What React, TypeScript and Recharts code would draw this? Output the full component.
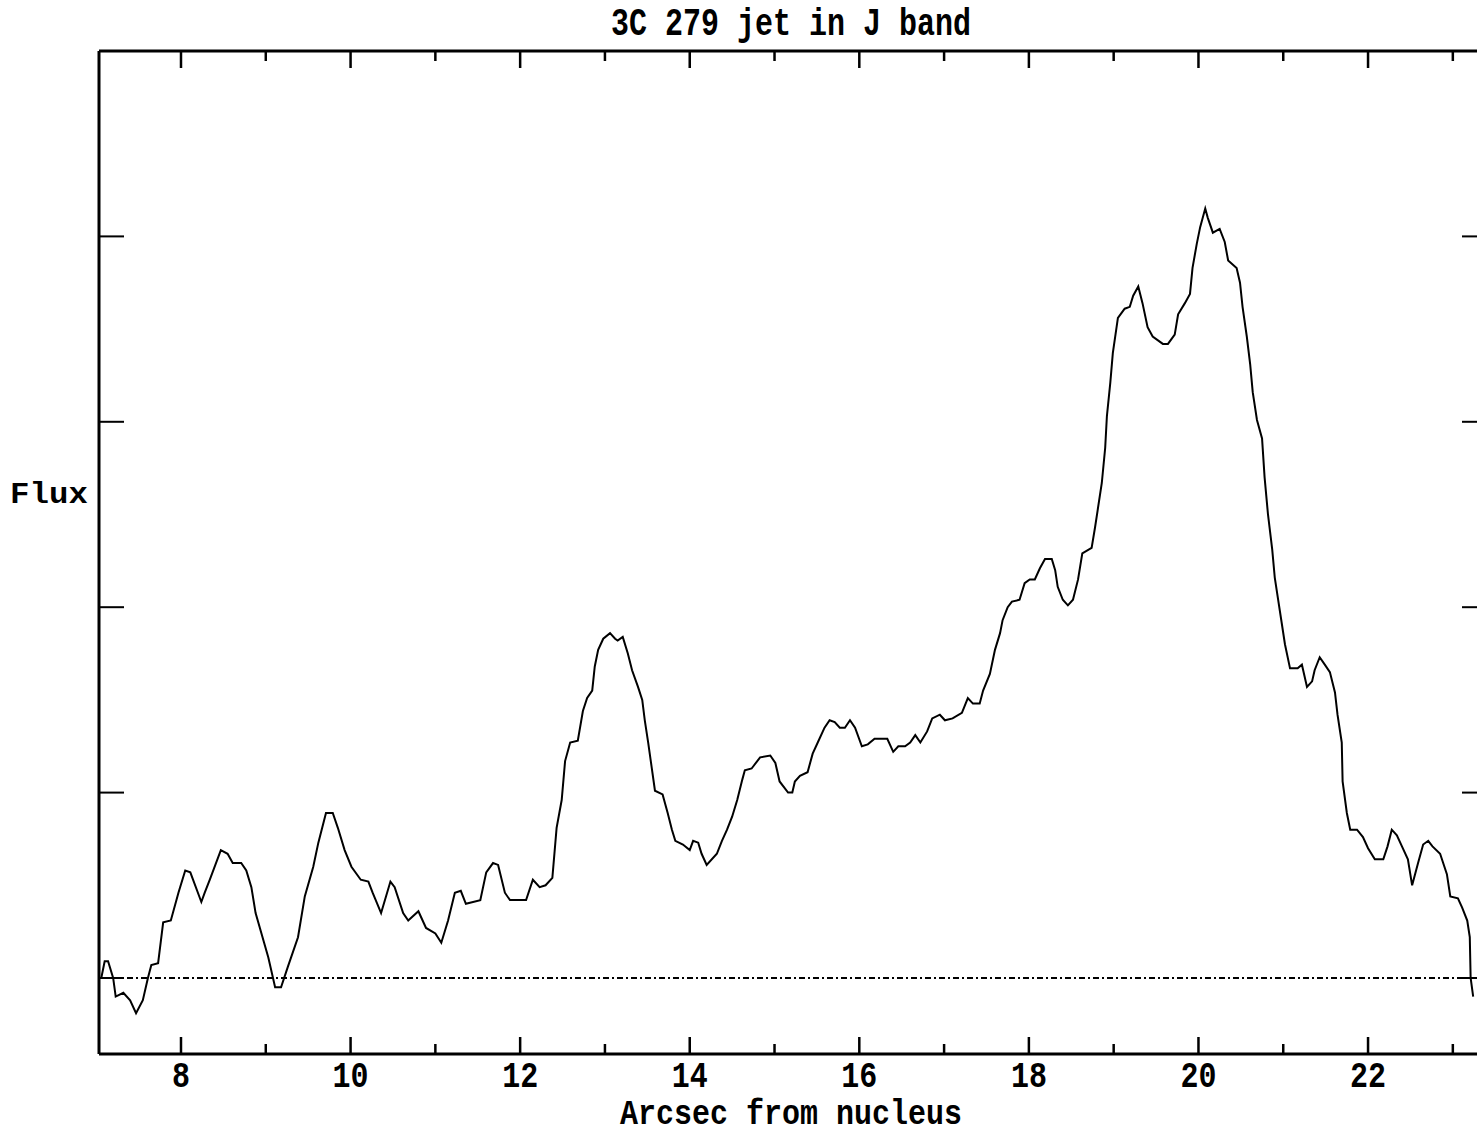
import { LineChart, Line, XAxis, YAxis, ReferenceLine } from 'recharts';

// arcsec from nucleus (x) and flux (y)
const arcsec = [
  7.06, 7.10, 7.14, 7.20, 7.23, 7.32, 7.40, 7.47, 7.55, 7.61,
  7.65, 7.73, 7.79, 7.88, 7.97, 8.05, 8.11, 8.24, 8.28, 8.34,
  8.47, 8.55, 8.61, 8.71, 8.77, 8.83, 8.88, 9.03, 9.11, 9.18,
  9.26, 9.38, 9.46, 9.56, 9.62, 9.71, 9.79, 9.85, 9.93, 10.01,
  10.12, 10.21, 10.26, 10.36, 10.47, 10.52, 10.62, 10.68, 10.80, 10.89,
  11.00, 11.07, 11.15, 11.23, 11.30, 11.36, 11.53, 11.60, 11.68, 11.74,
  11.82, 11.88, 12.07, 12.15, 12.23, 12.30, 12.38, 12.43, 12.49, 12.53,
  12.59, 12.68, 12.74, 12.79, 12.85, 12.88, 12.92, 12.98, 13.06, 13.12,
  13.15, 13.21, 13.27, 13.32, 13.39, 13.44, 13.47, 13.51, 13.55, 13.59,
  13.68, 13.74, 13.79, 13.83, 13.92, 14.00, 14.04, 14.10, 14.14, 14.20,
  14.32, 14.38, 14.44, 14.50, 14.56, 14.62, 14.65, 14.73, 14.83, 14.95,
  15.01, 15.06, 15.16, 15.21, 15.24, 15.30, 15.39, 15.45, 15.51, 15.59,
  15.65, 15.71, 15.77, 15.83, 15.89, 15.95, 16.03, 16.10, 16.18, 16.33,
  16.40, 16.46, 16.54, 16.60, 16.66, 16.72, 16.80, 16.86, 16.95, 17.01,
  17.10, 17.21, 17.28, 17.34, 17.42, 17.46, 17.54, 17.60, 17.66, 17.69,
  17.75, 17.80, 17.89, 17.95, 18.01, 18.07, 18.13, 18.19, 18.27, 18.31,
  18.34, 18.40, 18.46, 18.52, 18.58, 18.63, 18.74, 18.78, 18.81, 18.86,
  18.90, 18.92, 18.96, 18.99, 19.05, 19.13, 19.19, 19.23, 19.29, 19.34,
  19.40, 19.46, 19.58, 19.64, 19.72, 19.76, 19.84, 19.90, 19.93, 19.98,
  20.02, 20.08, 20.11, 20.17, 20.25, 20.31, 20.35, 20.45, 20.49, 20.52,
  20.57, 20.61, 20.64, 20.69, 20.75, 20.78, 20.82, 20.87, 20.90, 20.94,
  20.98, 21.02, 21.08, 21.17, 21.22, 21.28, 21.34, 21.37, 21.43, 21.49,
  21.55, 21.61, 21.64, 21.69, 21.70, 21.75, 21.79, 21.87, 21.94, 22.00,
  22.08, 22.18, 22.23, 22.28, 22.34, 22.40, 22.47, 22.52, 22.59, 22.65,
  22.71, 22.76, 22.85, 22.93, 22.97, 23.06, 23.11, 23.17, 23.20, 23.21, 23.24,
];

const flux = [
  0.00, 0.09, 0.09, 0.00, -0.10, -0.08, -0.12, -0.19, -0.12, 0.00,
  0.07, 0.08, 0.30, 0.31, 0.46, 0.58, 0.57, 0.41, 0.46, 0.53,
  0.69, 0.67, 0.62, 0.62, 0.58, 0.49, 0.35, 0.11, -0.05, -0.05,
  0.06, 0.22, 0.44, 0.60, 0.73, 0.89, 0.89, 0.81, 0.69, 0.60,
  0.53, 0.52, 0.46, 0.35, 0.52, 0.49, 0.35, 0.31, 0.36, 0.27,
  0.24, 0.19, 0.31, 0.46, 0.47, 0.40, 0.42, 0.57, 0.62, 0.61,
  0.46, 0.42, 0.42, 0.53, 0.49, 0.50, 0.54, 0.81, 0.96, 1.17,
  1.27, 1.28, 1.44, 1.51, 1.55, 1.68, 1.77, 1.83, 1.86, 1.83,
  1.82, 1.84, 1.75, 1.66, 1.57, 1.50, 1.39, 1.27, 1.14, 1.01,
  0.99, 0.89, 0.80, 0.74, 0.72, 0.69, 0.74, 0.73, 0.67, 0.61,
  0.67, 0.74, 0.80, 0.87, 0.96, 1.07, 1.12, 1.13, 1.19, 1.20,
  1.16, 1.06, 1.00, 1.00, 1.06, 1.09, 1.11, 1.21, 1.27, 1.35,
  1.39, 1.38, 1.35, 1.35, 1.39, 1.35, 1.25, 1.26, 1.29, 1.29,
  1.22, 1.25, 1.25, 1.27, 1.31, 1.27, 1.33, 1.40, 1.42, 1.39,
  1.40, 1.43, 1.51, 1.48, 1.48, 1.55, 1.64, 1.77, 1.86, 1.93,
  2.00, 2.03, 2.04, 2.13, 2.15, 2.15, 2.21, 2.26, 2.26, 2.20,
  2.11, 2.04, 2.01, 2.04, 2.15, 2.29, 2.32, 2.43, 2.52, 2.67,
  2.86, 3.03, 3.21, 3.37, 3.56, 3.61, 3.62, 3.68, 3.73, 3.64,
  3.51, 3.46, 3.42, 3.42, 3.47, 3.58, 3.64, 3.69, 3.83, 3.96,
  4.05, 4.15, 4.10, 4.02, 4.04, 3.97, 3.87, 3.83, 3.75, 3.62,
  3.46, 3.31, 3.16, 3.01, 2.91, 2.70, 2.50, 2.31, 2.16, 2.04,
  1.92, 1.80, 1.67, 1.67, 1.69, 1.57, 1.60, 1.66, 1.73, 1.69,
  1.65, 1.54, 1.42, 1.27, 1.06, 0.89, 0.80, 0.80, 0.76, 0.70,
  0.64, 0.64, 0.71, 0.80, 0.77, 0.71, 0.64, 0.50, 0.62, 0.72,
  0.74, 0.71, 0.67, 0.56, 0.44, 0.43, 0.38, 0.31, 0.22, 0.00, -0.10,
];

const xTicks = [8, 9, 10, 11, 12, 13, 14, 15, 16, 17, 18, 19, 20, 21, 22, 23];
const yTicks = [0, 1, 2, 3, 4];

const X_DOMAIN: [number, number] = [7.033, 23.403];
const Y_DOMAIN: [number, number] = [-0.41, 5];

const FONT = "'Liberation Mono', 'DejaVu Sans Mono', monospace";

const data = arcsec.map((x, i) => ({ x, flux: flux[i] }));

const isMajor = (v: number) => v % 2 === 0;

function BottomTick(props: any) {
  const { x, y, payload } = props;
  const major = isMajor(payload.value);
  return (
    <g>
      <line x1={x} x2={x} y1={y} y2={y - (major ? 17 : 10)} stroke="#000" strokeWidth={2.5} />
      {major && (
        <text
          transform={`translate(${x},${y + 22}) scale(1,1.25)`}
          x={0}
          y={9}
          textAnchor="middle"
          fontFamily={FONT}
          fontWeight="bold"
          fontSize={30}
          fill="#000"
        >
          {payload.value}
        </text>
      )}
    </g>
  );
}

function TopTick(props: any) {
  const { x, y, payload } = props;
  const major = isMajor(payload.value);
  return <line x1={x} x2={x} y1={y} y2={y + (major ? 17 : 10)} stroke="#000" strokeWidth={2.5} />;
}

function LeftTick(props: any) {
  const { x, y } = props;
  return <line x1={x} x2={x + 25} y1={y} y2={y} stroke="#000" strokeWidth={2} />;
}

function RightTick(props: any) {
  const { x, y } = props;
  return <line x1={x} x2={x - 25} y1={y} y2={y} stroke="#000" strokeWidth={2} />;
}

const textStyle: React.CSSProperties = {
  position: 'absolute',
  fontFamily: FONT,
  fontWeight: 'bold',
  fontSize: 30,
  lineHeight: '30px',
  color: '#000',
  whiteSpace: 'nowrap',
};

export default function App() {
  return (
    <div
      style={{
        position: 'absolute',
        left: 0,
        top: 0,
        width: 1477,
        height: 1136,
        overflow: 'hidden',
        background: '#fff',
      }}
    >
      <LineChart width={1500} height={1136} data={data} margin={{ top: 50, right: 12, bottom: 81, left: 98 }}>
        <XAxis
          dataKey="x"
          type="number"
          domain={X_DOMAIN}
          allowDataOverflow
          ticks={xTicks}
          interval={0}
          height={1}
          tickSize={0}
          tickMargin={0}
          tickLine={false}
          axisLine={{ stroke: '#000', strokeWidth: 3 }}
          tick={BottomTick}
        />
        <XAxis
          xAxisId="top"
          orientation="top"
          dataKey="x"
          type="number"
          domain={X_DOMAIN}
          allowDataOverflow
          ticks={xTicks}
          interval={0}
          height={1}
          tickSize={0}
          tickMargin={0}
          tickLine={false}
          axisLine={{ stroke: '#000', strokeWidth: 3 }}
          tick={TopTick}
        />
        <YAxis
          type="number"
          domain={Y_DOMAIN}
          allowDataOverflow
          ticks={yTicks}
          interval={0}
          width={1}
          tickSize={0}
          tickMargin={0}
          tickLine={false}
          axisLine={{ stroke: '#000', strokeWidth: 3 }}
          tick={LeftTick}
        />
        <YAxis
          yAxisId="right"
          orientation="right"
          type="number"
          domain={Y_DOMAIN}
          allowDataOverflow
          ticks={yTicks}
          interval={0}
          width={1}
          tickSize={0}
          tickMargin={0}
          tickLine={false}
          axisLine={{ stroke: '#000', strokeWidth: 3 }}
          tick={RightTick}
        />
        <ReferenceLine y={0} stroke="#000" strokeWidth={2} strokeDasharray="6 3 2 3" />
        <Line
          dataKey="flux"
          type="linear"
          stroke="#000"
          strokeWidth={2}
          dot={false}
          activeDot={false}
          isAnimationActive={false}
        />
      </LineChart>

      <div style={{ ...textStyle, left: 491, width: 600, top: 10, textAlign: 'center' }}>
        <span style={{ display: 'inline-block', transform: 'scale(1,1.3)' }}>3C 279 jet in J band</span>
      </div>
      <div style={{ ...textStyle, left: 13, top: 480 }}>
        <span style={{ display: 'inline-block', transform: 'scale(1.08,1)' }}>Flux</span>
      </div>
      <div style={{ ...textStyle, left: 491, width: 600, top: 1100, textAlign: 'center' }}>
        <span style={{ display: 'inline-block', transform: 'scale(1,1.15)' }}>Arcsec from nucleus</span>
      </div>
    </div>
  );
}
